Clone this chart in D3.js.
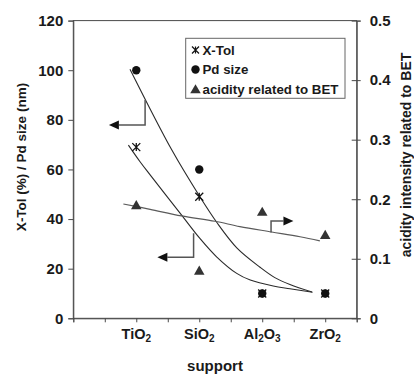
<!DOCTYPE html>
<html>
<head>
<meta charset="utf-8">
<script src="https://cdn.jsdelivr.net/npm/d3@7"></script>
<style>
  html, body { margin: 0; padding: 0; background: #fff; }
  svg { display: block; font-family: "Liberation Sans", Arial, sans-serif; }
</style>
</head>
<body>
<svg id="chart" width="414" height="375"></svg>
<script>
// ---------- data ----------
const categories = ["TiO2", "SiO2", "Al2O3", "ZrO2"];
const categoryPos = [2, 4, 6, 8];              // position on the 0..9 support axis
const xTol = [69, 49, 10, 10];                 // X-Tol (%)
const pdSize = [100, 60, 10, 10];              // Pd size (nm)
const acidity = [0.19, 0.08, 0.179, 0.14];     // acidity intensity related to BET
const leftTicks = [0, 20, 40, 60, 80, 100, 120];
const rightTicks = [0, 0.1, 0.2, 0.3, 0.4, 0.5];
const xTicks = [0, 1, 2, 3, 4, 5, 6, 7, 8, 9];

// trend curves (x on support axis, y on its own axis)
const pdTrend = [[1.80,100.4],[3.13,67.8],[4.02,49.0],[4.56,38.6],[5.20,28.3],[5.93,20.6],[6.40,16.4],[6.88,13.6],[7.58,10.6]];
const xTolTrend = [[1.75,69.8],[2.12,63.1],[2.44,57.8],[3.44,41.6],[4.02,32.2],[4.55,24.8],[5.19,18.1],[5.62,15.4],[6.35,13.0],[6.88,11.9],[7.60,10.5]];
const acidTrend = [[1.59,0.192],[2.44,0.183],[3.44,0.172],[4.50,0.163],[5.29,0.154],[6.30,0.145],[7.20,0.137],[7.83,0.130]];

// axis-pointer arrows
const arrowPd = [[2.28,88.0],[2.28,77.9],[1.13,77.9]];        // left axis
const arrowXTol = [[3.82,34.3],[3.82,24.6],[2.67,24.6]];      // left axis
const arrowAcid = [[6.28,0.144],[6.28,0.1634],[6.99,0.1634]]; // right axis

const legendItems = ["X-Tol", "Pd size", "acidity related to BET"];

// ---------- scales ----------
const svg = d3.select("#chart");
const x = d3.scaleLinear().domain([0, 9]).range([73.3, 356.7]);
const yL = d3.scaleLinear().domain([0, 120]).range([318.3, 20.6]);
const yR = d3.scaleLinear().domain([0, 0.5]).range([318.3, 20.6]);

const axisColor = "#4a4a4a";
const textColor = "#1a1a1a";

// frame
svg.append("rect")
  .attr("x", x(0)).attr("y", yL(120))
  .attr("width", x(9) - x(0)).attr("height", yL(0) - yL(120))
  .attr("fill", "none").attr("stroke", axisColor).attr("stroke-width", 1);

// left axis
const gL = svg.append("g").attr("transform", `translate(${x(0)},0)`)
  .call(d3.axisLeft(yL).tickValues(leftTicks).tickSize(5).tickPadding(5).tickFormat(d3.format("d")));
gL.select(".domain").attr("stroke", axisColor);
gL.selectAll(".tick line").attr("stroke", axisColor);
gL.selectAll(".tick text").attr("font-size", 15).attr("font-weight", "bold").attr("fill", textColor)
  .attr("font-family", "Liberation Sans, Arial, sans-serif");

// right axis
const gR = svg.append("g").attr("transform", `translate(${x(9)},0)`)
  .call(d3.axisRight(yR).tickValues(rightTicks).tickSize(4).tickPadding(9)
    .tickFormat(d => d === 0 ? "0" : d3.format(".1f")(d)));
gR.select(".domain").attr("stroke", axisColor);
gR.selectAll(".tick line").attr("stroke", axisColor).attr("x1", -5).attr("x2", 4);
gR.selectAll(".tick text").attr("font-size", 15).attr("font-weight", "bold").attr("fill", textColor)
  .attr("font-family", "Liberation Sans, Arial, sans-serif");

// bottom axis
const gB = svg.append("g").attr("transform", `translate(0,${yL(0)})`)
  .call(d3.axisBottom(x).tickValues(xTicks).tickSize(4).tickFormat(""));
gB.select(".domain").attr("stroke", axisColor);
gB.selectAll(".tick line").attr("stroke", axisColor);

// category labels with subscripts
categories.forEach((c, i) => {
  const t = svg.append("text")
    .attr("x", x(categoryPos[i])).attr("y", 339)
    .attr("text-anchor", "middle")
    .attr("font-size", 14.5).attr("font-weight", "bold").attr("fill", textColor);
  const parts = c.match(/[A-Za-z]+|\d+/g);
  parts.forEach(p => {
    if (/\d/.test(p)) {
      t.append("tspan").attr("font-size", 10).attr("dy", 3).text(p);
    } else {
      const ts = t.append("tspan").text(p);
      if (t.selectAll("tspan").size() > 1) ts.attr("dy", -3);
    }
  });
});

// axis titles
svg.append("text")
  .attr("x", x(4.5)).attr("y", 370.5)
  .attr("text-anchor", "middle").attr("font-size", 15).attr("font-weight", "bold").attr("fill", textColor)
  .text("support");
svg.append("text")
  .attr("transform", "translate(21,157) rotate(-90)")
  .attr("text-anchor", "middle").attr("dominant-baseline", "central")
  .attr("font-size", 13.5).attr("font-weight", "bold").attr("fill", textColor)
  .text("X-Tol (%) / Pd size (nm)");
svg.append("text")
  .attr("transform", "translate(405.5,155) rotate(-90)")
  .attr("text-anchor", "middle").attr("dominant-baseline", "central")
  .attr("font-size", 14).attr("font-weight", "bold").attr("fill", textColor)
  .text("acidity intensity related to BET");

// trend curves
const lineL = d3.line().x(d => x(d[0])).y(d => yL(d[1])).curve(d3.curveCatmullRom.alpha(0.5));
const lineR = d3.line().x(d => x(d[0])).y(d => yR(d[1])).curve(d3.curveCatmullRom.alpha(0.5));
svg.append("path").attr("d", lineL(pdTrend)).attr("fill", "none").attr("stroke", "#2a2a2a").attr("stroke-width", 1.1);
svg.append("path").attr("d", lineL(xTolTrend)).attr("fill", "none").attr("stroke", "#2a2a2a").attr("stroke-width", 1.1);
svg.append("path").attr("d", lineR(acidTrend)).attr("fill", "none").attr("stroke", "#5a5a5a").attr("stroke-width", 1.2);

// arrows
function drawArrow(pts, yScale) {
  const p = pts.map(d => [x(d[0]), yScale(d[1])]);
  const n = p.length;
  const tip = p[n - 1], prev = p[n - 2];
  const dx = tip[0] - prev[0], dy = tip[1] - prev[1];
  const len = Math.hypot(dx, dy), ux = dx / len, uy = dy / len;
  const hl = 10, hw = 4.5;
  const base = [tip[0] - ux * hl, tip[1] - uy * hl];
  const linePts = p.slice(0, n - 1).concat([base]);
  svg.append("path").attr("d", d3.line()(linePts)).attr("fill", "none")
    .attr("stroke", "#555").attr("stroke-width", 1.5);
  svg.append("path")
    .attr("d", d3.line()([tip, [base[0] - uy * hw, base[1] + ux * hw], [base[0] + uy * hw, base[1] - ux * hw]]) + "Z")
    .attr("fill", "#111");
}
drawArrow(arrowPd, yL);
drawArrow(arrowXTol, yL);
drawArrow(arrowAcid, yR);

// markers
function starPath(s) {
  const h = s / 2;
  return `M${-h},${-h}L${h},${h}M${-h},${h}L${h},${-h}M0,${-h}L0,${h}`;
}
const triSym = d3.symbol().type(d3.symbolTriangle).size(48);

svg.selectAll(".pd").data(pdSize).join("circle")
  .attr("cx", (d, i) => x(categoryPos[i])).attr("cy", d => yL(d))
  .attr("r", 4.2).attr("fill", "#111");

svg.selectAll(".xt").data(xTol).join("path")
  .attr("transform", (d, i) => `translate(${x(categoryPos[i])},${yL(d)})`)
  .attr("d", starPath(8)).attr("stroke", "#111").attr("stroke-width", 1.3).attr("fill", "none");

svg.selectAll(".ac").data(acidity).join("path")
  .attr("transform", (d, i) => `translate(${x(categoryPos[i])},${yR(d) + 1})`)
  .attr("d", triSym).attr("fill", "#333");

// legend
const lg = svg.append("g");
lg.append("rect").attr("x", 185.7).attr("y", 38.3).attr("width", 159.3).attr("height", 60)
  .attr("fill", "#fff").attr("stroke", "#666").attr("stroke-width", 1);
const rowY = [50, 69.5, 89.3];
legendItems.forEach((name, i) => {
  const mx = 195.5, my = rowY[i];
  if (i === 0) {
    lg.append("path").attr("transform", `translate(${mx},${my})`).attr("d", starPath(7))
      .attr("stroke", "#111").attr("stroke-width", 1.2).attr("fill", "none");
  } else if (i === 1) {
    lg.append("circle").attr("cx", mx).attr("cy", my).attr("r", 4.2).attr("fill", "#111");
  } else {
    lg.append("path").attr("transform", `translate(${mx},${my + 1})`).attr("d", triSym).attr("fill", "#333");
  }
  lg.append("text").attr("x", 202.5).attr("y", my).attr("dominant-baseline", "central")
    .attr("font-size", 13.3).attr("font-weight", "bold").attr("fill", textColor).text(name);
});
</script>
</body>
</html>
